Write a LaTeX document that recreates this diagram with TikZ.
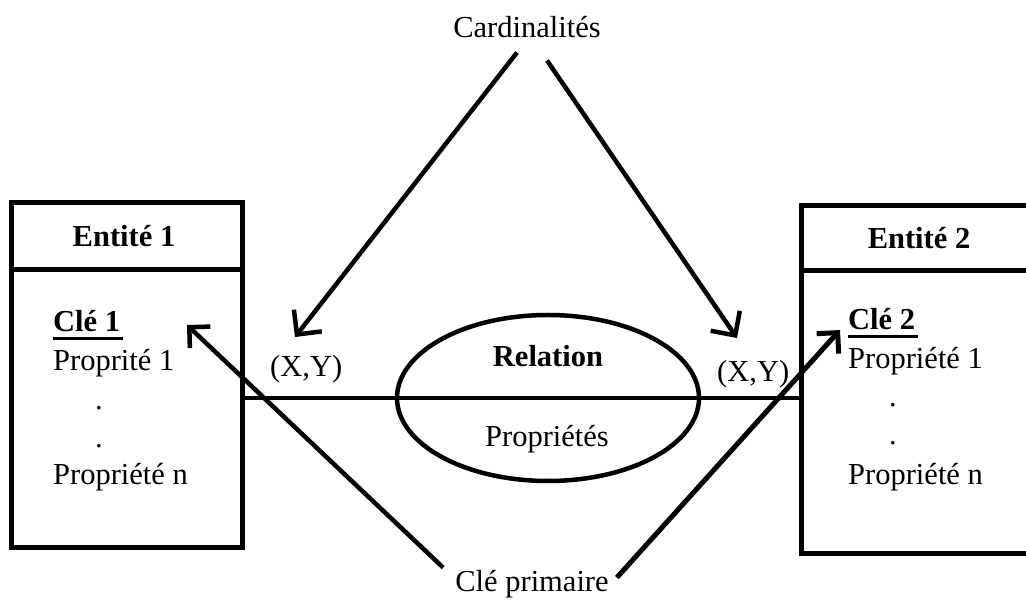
\documentclass[tikz,border=0pt]{standalone}
\usepackage{fontspec}
\setmainfont{Liberation Serif}
\usetikzlibrary{arrows.meta,shapes.geometric}
\begin{document}
\begin{tikzpicture}[x=1pt,y=-1pt,
  txt/.style={inner sep=0pt, font=\fontsize{30.5}{36}\selectfont},
  ttl/.style={inner sep=0pt, font=\fontsize{30.5}{36}\selectfont\bfseries},
  boxline/.style={line width=5pt},
  conn/.style={line width=4.8pt},
  arr/.style={line width=4.5pt, -{Straight Barb[angle=90:25pt]}},
]
\useasboundingbox (0,0) rectangle (1026,601);
\clip (0,0) rectangle (1026,601);

% entities
\node[draw, boxline, minimum width=231pt, minimum height=344.5pt, inner sep=0pt] (ent1) at (126.5,374.75) {};
\draw[boxline] (ent1.west |- 0,270) -- (ent1.east |- 0,270);
\node[draw, boxline, minimum width=238.5pt, minimum height=347.5pt, inner sep=0pt] (ent2) at (920.75,379.25) {};
\draw[boxline] (ent2.west |- 0,270.5) -- (ent2.east |- 0,270.5);

\node[ttl, anchor=base] (e1t) at (124,247) {Entité 1};
\node[ttl, anchor=base] (e2t) at (919,249) {Entité 2};

% entity 1 content
\node[ttl, anchor=base west] (cle1) at (53,332) {Clé 1};
\draw[line width=2.8pt] ([yshift=-6.5pt]cle1.base west) -- ([yshift=-6.5pt,xshift=3pt]cle1.base east);
\node[txt, anchor=base west] (p11) at (53,371) {Proprité 1};
\node[txt, anchor=base] (d11) at (99,410) {.};
\node[txt, anchor=base] (d12) at (99,448) {.};
\node[txt, anchor=base west] (p1n) at (53,485) {Propriété n};

% entity 2 content
\node[ttl, anchor=base west] (cle2) at (848,330) {Clé 2};
\draw[line width=2.8pt] ([yshift=-6.5pt]cle2.base west) -- ([yshift=-6.5pt,xshift=3pt]cle2.base east);
\node[txt, anchor=base west] (p21) at (848,369) {Propriété 1};
\node[txt, anchor=base] (d21) at (893,407) {.};
\node[txt, anchor=base] (d22) at (893,445) {.};
\node[txt, anchor=base west] (p2n) at (848,485) {Propriété n};

% relation
\node[draw, ellipse, line width=4.5pt, minimum width=302pt, minimum height=166pt, inner sep=0pt] (rel) at (548,398) {};
\draw[conn] (ent1.east |- rel.center) -- (ent2.west |- rel.center);
\node[ttl, anchor=base] (relt) at (548,367) {Relation};
\node[txt, anchor=base] (relp) at (547,447) {Propriétés};

% cardinalities
\node[txt, anchor=base west] (xy1) at (270,377) {(X,Y)};
\node[txt, anchor=base west] (xy2) at (717,382) {(X,Y)};
\node[txt, anchor=base] (card) at (527,38) {Cardinalités};
\coordinate (tipA) at (295,337);
\coordinate (tipB) at (737,338);
\draw[arr] ([xshift=-10pt,yshift=-14pt]card.south) -- (tipA);
\draw[arr] ([xshift=20pt,yshift=-22pt]card.south) -- (tipB);

% primary key
\node[txt, anchor=base] (prim) at (532,591) {Clé primaire};
\coordinate (tipC) at (187,325);
\coordinate (tipD) at (840,330);
\draw[arr, -{Straight Barb[angle=90:21pt]}] ([xshift=-12pt,yshift=2pt]prim.north west) -- (tipC);
\draw[arr, line width=5pt, -{Straight Barb[angle=90:21pt]}] ([xshift=8pt,yshift=-8pt]prim.north east) -- (tipD);
\end{tikzpicture}
\end{document}
